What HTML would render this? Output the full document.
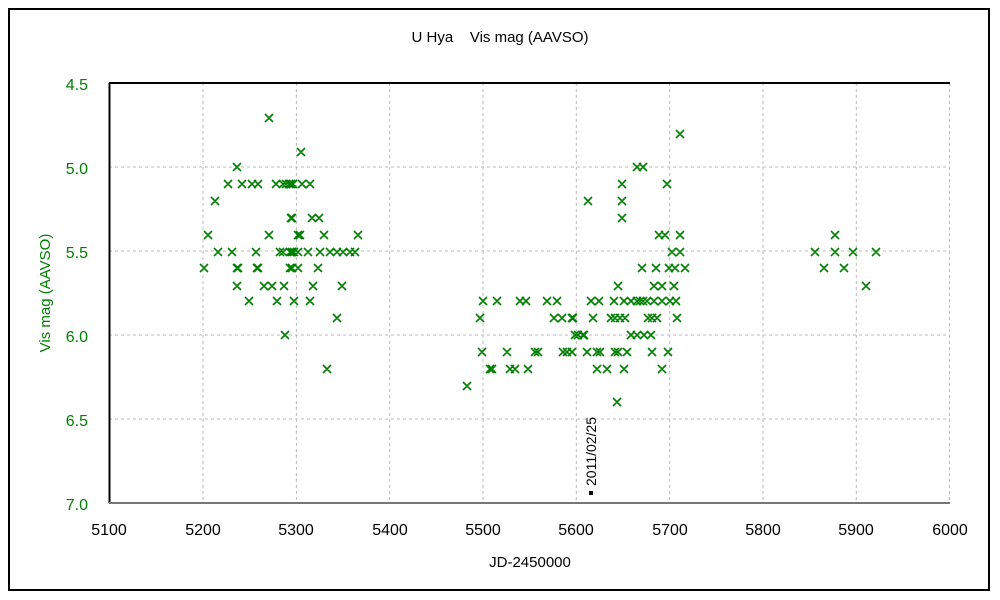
<!DOCTYPE html>
<html><head><style>body{margin:0;background:#fff}svg{display:block;font-family:"Liberation Sans",sans-serif}</style></head><body>
<svg width="1000" height="600" xmlns="http://www.w3.org/2000/svg">
<rect x="0" y="0" width="1000" height="600" fill="#fff"/>
<rect x="9" y="9" width="980" height="581" fill="none" stroke="#000" stroke-width="2"/>
<text x="500" y="42" font-size="15" text-anchor="middle">U Hya&#160;&#160;&#160;&#160;Vis mag (AAVSO)</text>
<g stroke="#bbb" stroke-dasharray="3,3" stroke-width="1">
<line x1="203" y1="83" x2="203" y2="503"/><line x1="296.4" y1="83" x2="296.4" y2="503"/><line x1="389.7" y1="83" x2="389.7" y2="503"/><line x1="483" y1="83" x2="483" y2="503"/><line x1="576.3" y1="83" x2="576.3" y2="503"/><line x1="669.7" y1="83" x2="669.7" y2="503"/><line x1="763" y1="83" x2="763" y2="503"/><line x1="856.3" y1="83" x2="856.3" y2="503"/><line x1="949.5" y1="83" x2="949.5" y2="503"/>
<line x1="109" y1="167" x2="950" y2="167"/><line x1="109" y1="251" x2="950" y2="251"/><line x1="109" y1="335" x2="950" y2="335"/><line x1="109" y1="419" x2="950" y2="419"/>
</g>
<line x1="109" y1="83" x2="950" y2="83" stroke="#000" stroke-width="2"/>
<line x1="109.5" y1="83" x2="109.5" y2="503" stroke="#000" stroke-width="2"/>
<line x1="109" y1="503" x2="950" y2="503" stroke="#777" stroke-width="2"/>
<g fill="#008000" font-size="16" text-anchor="end">
<text x="88" y="90">4.5</text><text x="88" y="174">5.0</text><text x="88" y="258">5.5</text><text x="88" y="342">6.0</text><text x="88" y="426">6.5</text><text x="88" y="510">7.0</text>
</g>
<text transform="translate(50,293) rotate(-90)" fill="#008000" font-size="15" text-anchor="middle">Vis mag (AAVSO)</text>
<g font-size="16" text-anchor="middle">
<text x="109" y="535">5100</text><text x="203" y="535">5200</text><text x="296" y="535">5300</text><text x="390" y="535">5400</text><text x="483" y="535">5500</text><text x="576" y="535">5600</text><text x="670" y="535">5700</text><text x="763" y="535">5800</text><text x="856" y="535">5900</text><text x="950" y="535">6000</text>
</g>
<text x="530" y="567" font-size="15" text-anchor="middle">JD-2450000</text>
<rect x="589" y="491" width="4" height="4" fill="#000"/>
<text transform="translate(596,486) rotate(-90)" font-size="14">2011/02/25</text>
<path stroke="#008000" stroke-width="1.6" fill="none" d="
M265,114l8,8m0-8l-8,8
M676,130l8,8m0-8l-8,8
M297,148l8,8m0-8l-8,8
M233,163l8,8m0-8l-8,8 M633,163l8,8m0-8l-8,8 M639,163l8,8m0-8l-8,8
M224,180l8,8m0-8l-8,8 M238,180l8,8m0-8l-8,8 M248,180l8,8m0-8l-8,8 M254,180l8,8m0-8l-8,8 M272,180l8,8m0-8l-8,8 M279,180l8,8m0-8l-8,8 M282,180l8,8m0-8l-8,8 M285,180l8,8m0-8l-8,8 M287,180l8,8m0-8l-8,8 M289,180l8,8m0-8l-8,8 M298,180l8,8m0-8l-8,8 M306,180l8,8m0-8l-8,8 M618,180l8,8m0-8l-8,8 M663,180l8,8m0-8l-8,8
M211,197l8,8m0-8l-8,8 M584,197l8,8m0-8l-8,8 M618,197l8,8m0-8l-8,8
M287,214l8,8m0-8l-8,8 M288,214l8,8m0-8l-8,8 M308,214l8,8m0-8l-8,8 M315,214l8,8m0-8l-8,8 M618,214l8,8m0-8l-8,8
M204,231l8,8m0-8l-8,8 M265,231l8,8m0-8l-8,8 M294,231l8,8m0-8l-8,8 M296,231l8,8m0-8l-8,8 M320,231l8,8m0-8l-8,8 M354,231l8,8m0-8l-8,8 M655,231l8,8m0-8l-8,8 M661,231l8,8m0-8l-8,8 M676,231l8,8m0-8l-8,8 M831,231l8,8m0-8l-8,8
M214,248l8,8m0-8l-8,8 M228,248l8,8m0-8l-8,8 M252,248l8,8m0-8l-8,8 M276,248l8,8m0-8l-8,8 M279,248l8,8m0-8l-8,8 M286,248l8,8m0-8l-8,8 M288,248l8,8m0-8l-8,8 M290,248l8,8m0-8l-8,8 M294,248l8,8m0-8l-8,8 M304,248l8,8m0-8l-8,8 M316,248l8,8m0-8l-8,8 M326,248l8,8m0-8l-8,8 M333,248l8,8m0-8l-8,8 M339,248l8,8m0-8l-8,8 M346,248l8,8m0-8l-8,8 M351,248l8,8m0-8l-8,8 M668,248l8,8m0-8l-8,8 M676,248l8,8m0-8l-8,8 M811,248l8,8m0-8l-8,8 M831,248l8,8m0-8l-8,8 M849,248l8,8m0-8l-8,8 M872,248l8,8m0-8l-8,8
M200,264l8,8m0-8l-8,8 M233,264l8,8m0-8l-8,8 M234,264l8,8m0-8l-8,8 M253,264l8,8m0-8l-8,8 M254,264l8,8m0-8l-8,8 M286,264l8,8m0-8l-8,8 M288,264l8,8m0-8l-8,8 M294,264l8,8m0-8l-8,8 M314,264l8,8m0-8l-8,8 M638,264l8,8m0-8l-8,8 M652,264l8,8m0-8l-8,8 M665,264l8,8m0-8l-8,8 M671,264l8,8m0-8l-8,8 M681,264l8,8m0-8l-8,8 M820,264l8,8m0-8l-8,8 M840,264l8,8m0-8l-8,8
M233,282l8,8m0-8l-8,8 M260,282l8,8m0-8l-8,8 M268,282l8,8m0-8l-8,8 M280,282l8,8m0-8l-8,8 M309,282l8,8m0-8l-8,8 M338,282l8,8m0-8l-8,8 M614,282l8,8m0-8l-8,8 M650,282l8,8m0-8l-8,8 M658,282l8,8m0-8l-8,8 M670,282l8,8m0-8l-8,8 M862,282l8,8m0-8l-8,8
M245,297l8,8m0-8l-8,8 M273,297l8,8m0-8l-8,8 M290,297l8,8m0-8l-8,8 M306,297l8,8m0-8l-8,8 M479,297l8,8m0-8l-8,8 M493,297l8,8m0-8l-8,8 M516,297l8,8m0-8l-8,8 M522,297l8,8m0-8l-8,8 M543,297l8,8m0-8l-8,8 M553,297l8,8m0-8l-8,8 M587,297l8,8m0-8l-8,8 M595,297l8,8m0-8l-8,8 M610,297l8,8m0-8l-8,8 M620,297l8,8m0-8l-8,8 M627,297l8,8m0-8l-8,8 M633,297l8,8m0-8l-8,8 M636,297l8,8m0-8l-8,8 M639,297l8,8m0-8l-8,8 M643,297l8,8m0-8l-8,8 M650,297l8,8m0-8l-8,8 M658,297l8,8m0-8l-8,8 M666,297l8,8m0-8l-8,8 M672,297l8,8m0-8l-8,8
M333,314l8,8m0-8l-8,8 M476,314l8,8m0-8l-8,8 M550,314l8,8m0-8l-8,8 M558,314l8,8m0-8l-8,8 M568,314l8,8m0-8l-8,8 M569,314l8,8m0-8l-8,8 M589,314l8,8m0-8l-8,8 M607,314l8,8m0-8l-8,8 M611,314l8,8m0-8l-8,8 M616,314l8,8m0-8l-8,8 M621,314l8,8m0-8l-8,8 M644,314l8,8m0-8l-8,8 M648,314l8,8m0-8l-8,8 M653,314l8,8m0-8l-8,8 M673,314l8,8m0-8l-8,8
M281,331l8,8m0-8l-8,8 M571,331l8,8m0-8l-8,8 M579,331l8,8m0-8l-8,8 M574,331l8,8m0-8l-8,8 M580,331l8,8m0-8l-8,8 M627,331l8,8m0-8l-8,8 M633,331l8,8m0-8l-8,8 M640,331l8,8m0-8l-8,8 M647,331l8,8m0-8l-8,8
M478,348l8,8m0-8l-8,8 M503,348l8,8m0-8l-8,8 M531,348l8,8m0-8l-8,8 M534,348l8,8m0-8l-8,8 M559,348l8,8m0-8l-8,8 M563,348l8,8m0-8l-8,8 M568,348l8,8m0-8l-8,8 M583,348l8,8m0-8l-8,8 M593,348l8,8m0-8l-8,8 M596,348l8,8m0-8l-8,8 M611,348l8,8m0-8l-8,8 M614,348l8,8m0-8l-8,8 M623,348l8,8m0-8l-8,8 M648,348l8,8m0-8l-8,8 M664,348l8,8m0-8l-8,8
M323,365l8,8m0-8l-8,8 M486,365l8,8m0-8l-8,8 M488,365l8,8m0-8l-8,8 M506,365l8,8m0-8l-8,8 M511,365l8,8m0-8l-8,8 M524,365l8,8m0-8l-8,8 M593,365l8,8m0-8l-8,8 M603,365l8,8m0-8l-8,8 M620,365l8,8m0-8l-8,8 M658,365l8,8m0-8l-8,8
M463,382l8,8m0-8l-8,8
M613,398l8,8m0-8l-8,8"/>
</svg>
</body></html>
